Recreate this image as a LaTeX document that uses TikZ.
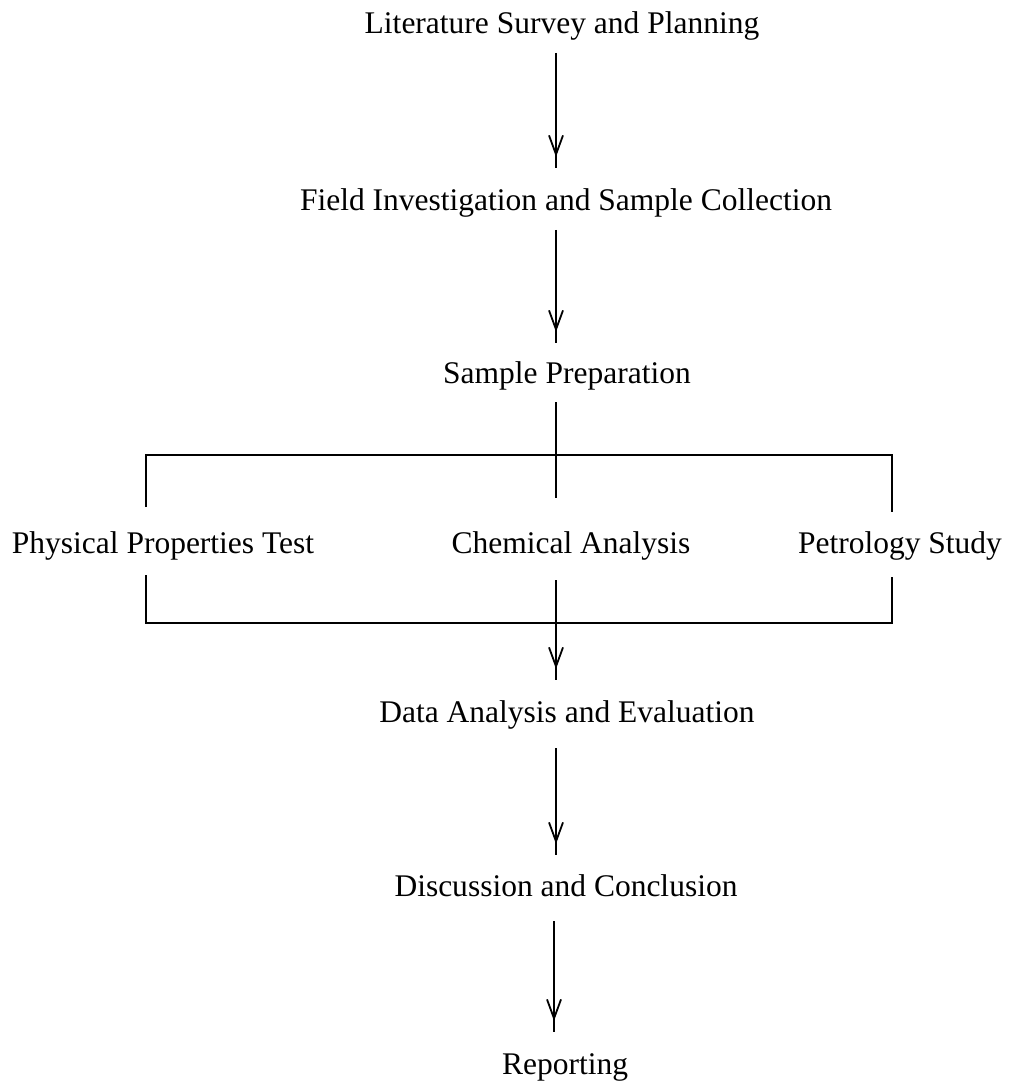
\documentclass[tikz,border=0pt]{standalone}
\usepackage{fontspec}
\setmainfont{Liberation Serif}
\usetikzlibrary{arrows.meta,decorations.markings}
\begin{document}
\begin{tikzpicture}[x=1pt,y=-1pt,
  lbl/.style={inner sep=0pt,anchor=base,font=\fontsize{31.5}{38}\selectfont},
  ln/.style={line width=1.8pt},
  arr/.style={ln,postaction={decorate},
    decoration={markings,mark=at position -11pt with {\arrow[line width=1.8pt]{Straight Barb[length=19pt,width=14pt]}}}}]
\useasboundingbox (0,0) rectangle (1012,1083);
\node[lbl] (lit) at (562,34) {Literature Survey and Planning};
\node[lbl] (field) at (566,211) {Field Investigation and Sample Collection};
\node[lbl] (prep) at (567,383) {Sample Preparation};
\node[lbl] (phys) at (163,553) {Physical Properties Test};
\node[lbl] (chem) at (571,553) {Chemical Analysis};
\node[lbl] (petro) at (900,553) {Petrology Study};
\node[lbl] (data) at (567,722) {Data Analysis and Evaluation};
\node[lbl] (disc) at (566,896) {Discussion and Conclusion};
\node[lbl] (rep) at (565,1074) {Reporting};
% connector end points
\coordinate (a1s) at (556,53);  \coordinate (a1e) at (556,168);
\coordinate (a2s) at (556,230); \coordinate (a2e) at (556,343);
\coordinate (p0) at (556,402);  \coordinate (p1) at (556,498);
\coordinate (tl) at (146,455);  \coordinate (tr) at (892,455);
\coordinate (tlb) at (146,507); \coordinate (trb) at (892,512);
\coordinate (bl) at (146,623);  \coordinate (br) at (892,623);
\coordinate (blt) at (146,575); \coordinate (brt) at (892,577);
\coordinate (c0) at (556,580);  \coordinate (c1) at (556,680);
\coordinate (a4s) at (556,748); \coordinate (a4e) at (556,855);
\coordinate (a5s) at (554,921); \coordinate (a5e) at (554,1032);
\draw[arr] (a1s) -- (a1e);
\draw[arr] (a2s) -- (a2e);
\draw[ln] (p0) -- (p1);
\draw[ln] (tlb) -- (tl) -- (tr) -- (trb);
\draw[ln] (blt) -- (bl) -- (br) -- (brt);
\draw[arr] (c0) -- (c1);
\draw[arr] (a4s) -- (a4e);
\draw[arr] (a5s) -- (a5e);
\end{tikzpicture}
\end{document}
